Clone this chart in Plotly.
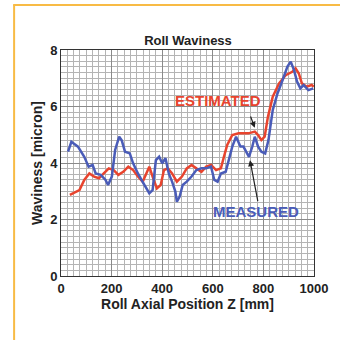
import plotly.graph_objects as go

measured_z = [28, 41, 67, 92, 109, 125, 137, 157, 176, 186, 201, 214, 230, 240, 253, 272, 285, 304, 330, 349, 362, 375, 388, 400, 413, 426, 439, 452, 458, 469, 481, 497, 516, 535, 555, 574, 593, 606, 619, 632, 651, 664, 677, 692, 709, 721, 734, 743, 756, 766, 779, 792, 807, 820, 837, 856, 876, 895, 908, 921, 933, 946, 959, 978, 997]
measured_w = [4.4, 4.75, 4.58, 4.22, 3.87, 3.93, 3.63, 3.58, 3.4, 3.22, 3.52, 4.46, 4.93, 4.8, 4.4, 4.34, 3.99, 3.63, 3.22, 2.93, 3.04, 4.1, 4.22, 3.99, 4.17, 3.63, 3.34, 2.99, 2.63, 2.81, 3.22, 3.34, 3.52, 3.75, 3.81, 3.81, 3.87, 3.4, 3.34, 3.63, 3.69, 4.1, 4.58, 4.93, 4.58, 4.58, 4.34, 4.22, 4.58, 4.93, 4.58, 4.4, 4.34, 4.81, 5.88, 6.47, 6.94, 7.41, 7.59, 7.29, 6.88, 6.64, 6.76, 6.58, 6.64]

estimated_z = [35, 73, 92, 112, 131, 150, 169, 189, 208, 227, 246, 266, 285, 304, 323, 336, 349, 362, 379, 394, 407, 422, 439, 458, 478, 497, 516, 535, 555, 574, 593, 613, 632, 644, 657, 677, 702, 741, 766, 779, 792, 805, 818, 837, 862, 888, 914, 927, 940, 952, 971, 991, 999]
estimated_w = [2.87, 3.04, 3.4, 3.63, 3.52, 3.46, 3.63, 3.81, 3.75, 3.58, 3.69, 3.87, 3.75, 3.52, 3.34, 3.63, 3.87, 3.52, 3.1, 3.22, 3.75, 3.81, 3.63, 3.34, 3.52, 3.81, 3.93, 3.81, 3.69, 3.87, 3.93, 3.75, 3.81, 4.22, 4.64, 4.99, 5.05, 5.05, 5.11, 4.99, 4.81, 4.93, 5.64, 6.35, 6.82, 7.11, 7.23, 7.35, 7.17, 6.82, 6.7, 6.76, 6.7]

x_ticks = [0, 200, 400, 600, 800, 1000]
y_ticks = [0, 2, 4, 6, 8]

FONT = "Liberation Sans, Arial, sans-serif"
W, H = 340, 340
L, T, B, R = 61, 50, 64, 20

fig = go.Figure()
fig.add_trace(go.Scatter(x=estimated_z, y=estimated_w, mode="lines",
                         line=dict(color="#e8442e", width=2.5), name="Estimated"))
fig.add_trace(go.Scatter(x=measured_z, y=measured_w, mode="lines",
                         line=dict(color="#4a5cb8", width=2.5), name="Measured"))

grid = dict(showgrid=True, gridcolor="#8a8a8a", gridwidth=1,
            showline=True, linecolor="#333333", linewidth=1, mirror=True,
            ticks="", zeroline=False,
            tickfont=dict(family=FONT, size=13, color="#222222"))

fig.update_xaxes(range=[0, 1000], tickvals=x_ticks, ticktext=["<b>%d</b>" % v for v in x_ticks],
                 minor=dict(dtick=25, showgrid=True, gridcolor="#b4b4b4", gridwidth=1),
                 title=dict(text="<b>Roll Axial Position Z [mm]</b>",
                            font=dict(family=FONT, size=14, color="#222222"), standoff=2),
                 **grid)
fig.update_yaxes(range=[0, 8], tickvals=y_ticks, ticktext=["<b>%d</b>" % v for v in y_ticks],
                 minor=dict(dtick=0.2, showgrid=True, gridcolor="#b4b4b4", gridwidth=1),
                 title=dict(text="<b>Waviness [micron]</b>",
                            font=dict(family=FONT, size=14, color="#222222"), standoff=4),
                 **grid)

pw, ph = W - L - R, H - T - B

def px_x(p):
    return (p - L) / pw

def px_y(p):
    return (H - B - p) / ph

fig.update_layout(
    width=W, height=H,
    margin=dict(l=L, r=R, t=T, b=B),
    paper_bgcolor="white", plot_bgcolor="white",
    showlegend=False,
    title=dict(text="<b>Roll Waviness</b>", x=188 / W, xanchor="center",
               y=1 - 40 / H, yanchor="middle",
               font=dict(family=FONT, size=13, color="#222222")),
    annotations=[
        dict(x=619, y=6.23, text="<b>ESTIMATED</b>", showarrow=False,
             font=dict(family=FONT, size=15, color="#e8442e")),
        dict(x=769, y=2.28, text="<b>MEASURED</b>", showarrow=False,
             font=dict(family=FONT, size=15, color="#4a5cb8")),
        dict(x=766, y=5.25, ax=747, ay=5.7, xref="x", yref="y", axref="x", ayref="y",
             text="", showarrow=True, arrowhead=2, arrowsize=1, arrowwidth=1.2, arrowcolor="#222222"),
        dict(x=747, y=4.1, ax=779, ay=2.6, xref="x", yref="y", axref="x", ayref="y",
             text="", showarrow=True, arrowhead=2, arrowsize=1, arrowwidth=1.2, arrowcolor="#222222"),
    ],
    shapes=[
        dict(type="line", xref="paper", yref="paper",
             x0=px_x(13), x1=px_x(13), y0=px_y(5), y1=px_y(350),
             line=dict(color="#f8bb45", width=2)),
        dict(type="line", xref="paper", yref="paper",
             x0=px_x(12), x1=px_x(350), y0=px_y(5), y1=px_y(5),
             line=dict(color="#f8bb45", width=2)),
    ],
)

fig.write_html("out.html", config={"displayModeBar": False},
               post_script="document.body.style.margin='0';document.body.style.overflow='hidden';")
